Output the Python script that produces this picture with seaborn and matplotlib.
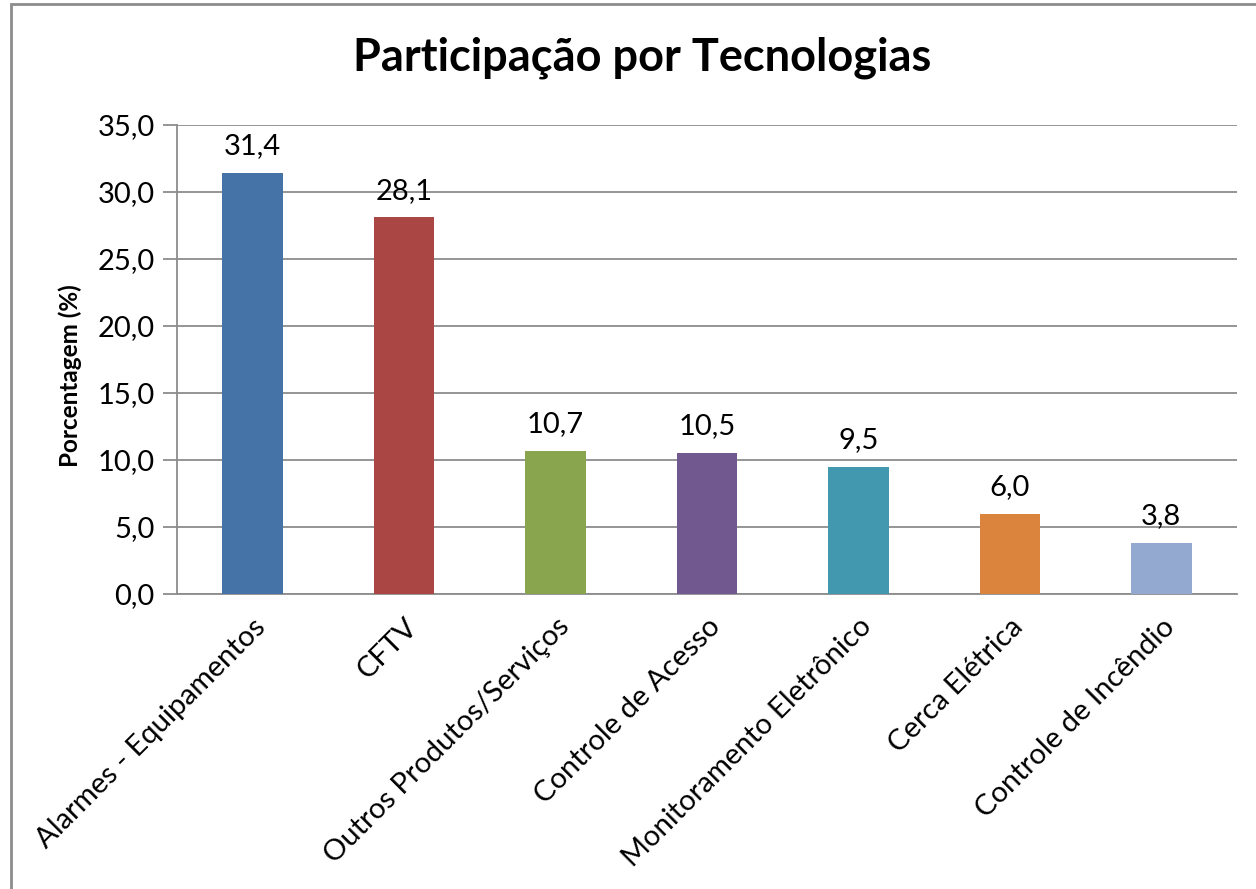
import matplotlib
matplotlib.use("Agg")
import matplotlib.pyplot as plt
import seaborn as sns
import pandas as pd
from matplotlib.patches import Rectangle

categories = ["Alarmes - Equipamentos", "CFTV", "Outros Produtos/Serviços",
              "Controle de Acesso", "Monitoramento Eletrônico", "Cerca Elétrica",
              "Controle de Incêndio"]
values = [31.4, 28.1, 10.7, 10.5, 9.5, 6.0, 3.8]
colors = ["#4572A7", "#AA4643", "#89A54E", "#71588F", "#4198AF", "#DB843D", "#93A9CF"]
yticks = [0, 5, 10, 15, 20, 25, 30, 35]

sns.set_theme(style="white")
plt.rcParams['font.family'] = ['Lato', 'DejaVu Sans']
plt.rcParams['text.color'] = 'black'
plt.rcParams['xtick.color'] = 'black'
plt.rcParams['ytick.color'] = 'black'
plt.rcParams['axes.labelcolor'] = 'black'

df = pd.DataFrame({"cat": categories, "val": values})

fig = plt.figure(figsize=(12.56, 8.89), dpi=100)
ax = fig.add_axes([177/1256, 1-594/889, (1237-177)/1256, (594-125)/889])

sns.barplot(data=df, x="cat", y="val", hue="cat", palette=colors, legend=False,
            width=0.4, ax=ax, saturation=1, zorder=3, linewidth=0)

ax.set_ylim(0, 35)
ax.set_yticks(yticks)
ax.set_yticklabels([f"{t:.1f}".replace(".", ",") for t in yticks], fontsize=21)
ax.yaxis.grid(True, color="#8c8c8c", linewidth=1.3, zorder=0)
ax.set_axisbelow(True)
ax.tick_params(axis="y", which="both", left=True, length=10, width=1.3, color="#8c8c8c", pad=6)
ax.tick_params(axis="x", bottom=False, pad=4)
ax.set_xticks(range(len(categories)))
ax.set_xticklabels(categories, rotation=45, ha="right", rotation_mode="anchor", fontsize=21)
for lbl in ax.get_xticklabels():
    lbl.set_y(-0.012)

for s in ["top", "right"]:
    ax.spines[s].set_visible(False)
for s in ["left", "bottom"]:
    ax.spines[s].set_color("#8c8c8c")
    ax.spines[s].set_linewidth(1.3)

ax.set_xlabel("")
ax.set_ylabel("Porcentagem (%)", fontsize=17.5, fontweight="bold", labelpad=10)
ax.yaxis.set_label_coords(-0.09, 0.465)

for cont in ax.containers:
    ax.bar_label(cont, labels=[f"{v:.1f}".replace(".", ",") for v in cont.datavalues],
                 padding=10, fontsize=21)

fig.text(642/1256, 1-58/889, "Participação por Tecnologias", ha="center", va="center",
         fontsize=32.5, fontweight="bold")

fig.patches.append(Rectangle((11/1256, -0.1), 1.2, 1-4/889+0.1, transform=fig.transFigure,
                             fill=False, edgecolor="#8c8c8c", linewidth=2, figure=fig))

fig.savefig("out.png", dpi=100)
